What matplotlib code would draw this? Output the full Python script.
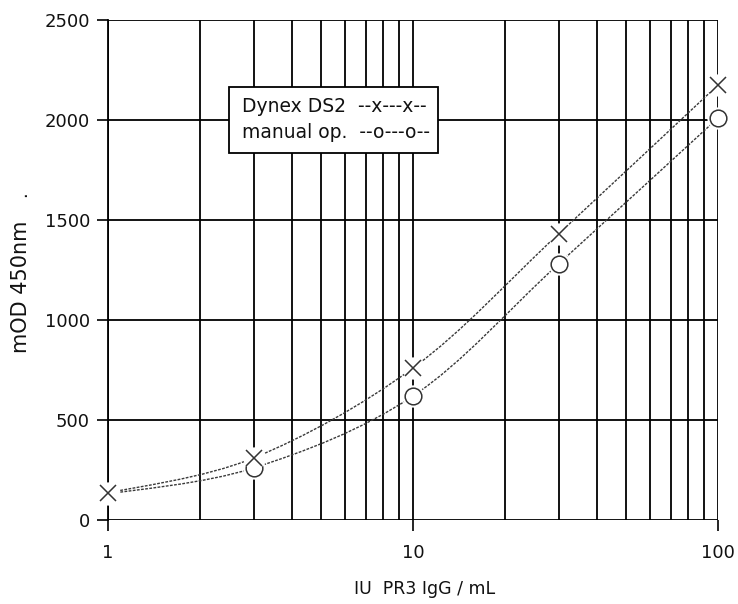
import numpy as np
import matplotlib.pyplot as plt
from matplotlib.path import Path
from matplotlib.patches import PathPatch, Rectangle

plt.rcParams['font.family'] = ['DejaVu Sans']

# values
conc = [1, 3, 10, 30, 100]
dynex = [135, 310, 760, 1430, 2175]
manual = [130, 260, 620, 1280, 2010]
yticks = [0, 500, 1000, 1500, 2000, 2500]
xticks = [1, 10, 100]
legend_lines = ['Dynex DS2  --x---x--', 'manual op.  --o---o--']


def smooth_path(x, y):
    """catmull-rom through the points (log x), drawn as cubic bezier"""
    lx = np.log10(x)
    y = np.asarray(y, float)
    verts = [(x[0], y[0])]
    codes = [Path.MOVETO]
    n = len(lx)
    for i in range(n - 1):
        p0 = (lx[max(i - 1, 0)], y[max(i - 1, 0)])
        p1 = (lx[i], y[i])
        p2 = (lx[i + 1], y[i + 1])
        p3 = (lx[min(i + 2, n - 1)], y[min(i + 2, n - 1)])
        c1 = (p1[0] + (p2[0] - p0[0]) / 6, p1[1] + (p2[1] - p0[1]) / 6)
        c2 = (p2[0] - (p3[0] - p1[0]) / 6, p2[1] - (p3[1] - p1[1]) / 6)
        for c in (c1, c2, p2):
            verts.append((10 ** c[0], c[1]))
            codes.append(Path.CURVE4)
    return Path(verts, codes)


fig = plt.figure(figsize=(7.38, 6.04), dpi=100)
ax = fig.add_axes([108 / 738, 84 / 604, 610 / 738, 500 / 604])
ax.set_xscale('log')
ax.set_xlim(1, 100)
ax.set_ylim(0, 2500)

# full black grid, major and minor
for v in yticks:
    ax.axhline(v, color='black', lw=1.3, zorder=1)
for dec in (1, 10):
    for k in range(1, 10):
        ax.axvline(dec * k, color='black', lw=1.3, zorder=1)
ax.axvline(100, color='black', lw=1.3, zorder=1)

for ys in (dynex, manual):
    ax.add_patch(PathPatch(smooth_path(conc, ys), facecolor='none',
                           edgecolor='#3a3a3a', lw=1.0,
                           linestyle=(0, (2, 1)), zorder=2))

# white halo under markers so the lines break around them
ax.plot(conc, manual, 'o', ms=16, color='white', mec='none', zorder=3,
        clip_on=False)
ax.plot(conc, manual, 'o', ms=12, mfc='white', mec='#333333', mew=1.1,
        zorder=4, clip_on=False)
ax.plot(conc, dynex, 'o', ms=16, color='white', mec='none', zorder=5,
        clip_on=False)
ax.plot(conc, dynex, 'x', ms=11, mew=1.1, color='#333333', zorder=6,
        clip_on=False)

for s in ax.spines.values():
    s.set_visible(False)
ax.set_yticks(yticks)
ax.set_xticks(xticks)
ax.set_xticklabels(['1', '10', '100'])
ax.xaxis.set_minor_locator(plt.NullLocator())
ax.tick_params(axis='both', length=8, width=1.2, color='black',
               labelsize=13, direction='out', labelcolor='#111111')
ax.tick_params(axis='y', pad=5)
ax.tick_params(axis='x', pad=9)
ax.spines['left'].set_visible(True)
ax.spines['left'].set_linewidth(1.3)

ax.add_patch(Rectangle((0.198, 0.734), 0.343, 0.132, transform=ax.transAxes,
                       facecolor='white', edgecolor='black', lw=1.3,
                       zorder=7))
for i, line in enumerate(legend_lines):
    ax.text(0.220, 0.828 - i * 0.052, line, transform=ax.transAxes,
            fontsize=13.5, va='center', ha='left', zorder=8,
            color='#111111')

fig.text(21 / 738, 1 - 287 / 604, 'mOD 450nm', rotation=90, fontsize=15,
         ha='center', va='center', color='#111111')
fig.text(21 / 738, 1 - 194 / 604, '.', rotation=90, fontsize=13,
         ha='center', va='center', color='#111111')
fig.text(425 / 738, 1 - 589 / 604, 'IU  PR3 IgG / mL', fontsize=12.5,
         ha='center', va='center', color='#111111')

fig.savefig('out.png', dpi=100)
